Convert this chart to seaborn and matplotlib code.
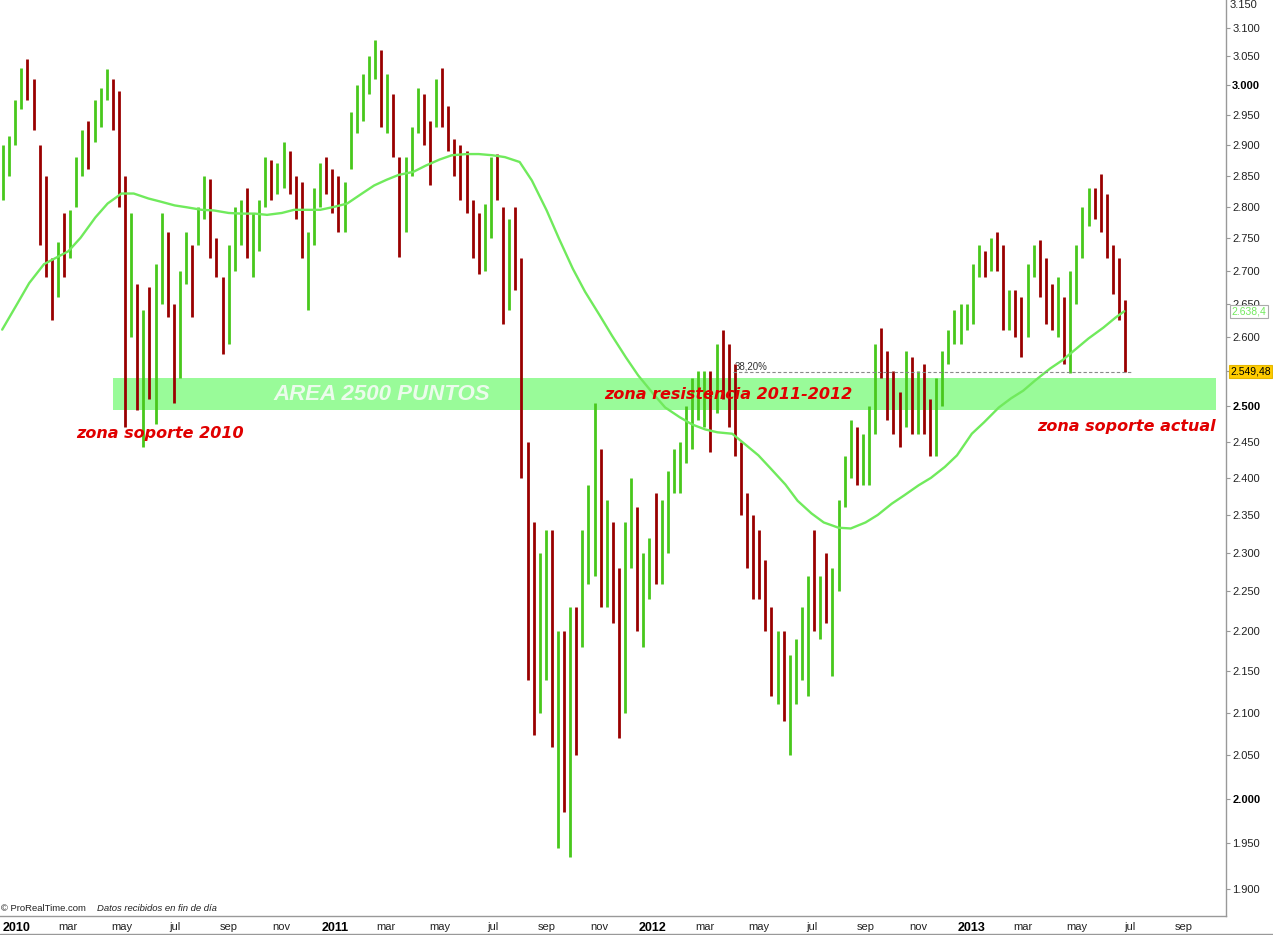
import numpy as np
import pandas as pd
import matplotlib
matplotlib.use("Agg")
import matplotlib.pyplot as plt
import matplotlib.dates as mdates
import matplotlib.transforms as mtransforms
from matplotlib.lines import Line2D
from matplotlib.ticker import NullLocator
import seaborn as sns

# ---- data (weekly bars, one per week, Wednesday stamp) ----
first_week = "2009-12-16"

week_high = [
    2900, 2915, 2975, 3030, 3045, 3010, 2900, 2850, 2720, 2745, 2790, 2795, 2880,
    2925, 2940, 2975, 2995, 3028, 3010, 2990, 2850, 2790, 2680, 2640, 2675, 2710,
    2790, 2760, 2650, 2700, 2760, 2740, 2800, 2850, 2845, 2750, 2690, 2740, 2800,
    2810, 2830, 2790, 2810, 2880, 2875, 2870, 2905, 2890, 2850, 2840, 2760, 2830,
    2870, 2880, 2860, 2850, 2840, 2955, 3000, 3020, 3050, 3078, 3060, 3020, 2985,
    2880, 2880, 2930, 2995, 2985, 2940, 3010, 3030, 2965, 2910, 2900, 2890, 2810,
    2790, 2805, 2880, 2885, 2800, 2780, 2800, 2720, 2450, 2340, 2300, 2330, 2330,
    2200, 2200, 2230, 2230, 2330, 2390, 2505, 2440, 2370, 2340, 2280, 2340, 2400,
    2360, 2300, 2320, 2380, 2370, 2410, 2440, 2450, 2500, 2540, 2550, 2550, 2550,
    2590, 2611, 2590, 2560, 2450, 2380, 2350, 2330, 2290, 2230, 2200, 2200, 2170,
    2190, 2230, 2270, 2330, 2270, 2300, 2280, 2370, 2430, 2480, 2470, 2460, 2500,
    2590, 2613, 2580, 2550, 2520, 2580, 2570, 2550, 2560, 2510, 2540, 2580, 2610,
    2640, 2650, 2650, 2710, 2740, 2730, 2750, 2760, 2740, 2670, 2670, 2660, 2710,
    2740, 2748, 2720, 2680, 2690, 2660, 2700, 2740, 2800, 2830, 2830, 2853, 2820,
    2740, 2720, 2655,
]
week_low = [
    2810, 2850, 2900, 2960, 2975, 2925, 2740, 2690, 2625, 2660, 2690, 2720, 2800,
    2850, 2860, 2905, 2930, 2975, 2925, 2800, 2470, 2600, 2495, 2443, 2510, 2475,
    2650, 2630, 2505, 2540, 2680, 2630, 2740, 2780, 2720, 2690, 2575, 2590, 2700,
    2740, 2720, 2690, 2730, 2800, 2810, 2820, 2830, 2820, 2780, 2720, 2640, 2740,
    2800, 2820, 2790, 2760, 2760, 2860, 2920, 2940, 2985, 3010, 2930, 2920, 2880,
    2721, 2760, 2850, 2920, 2900, 2835, 2930, 2930, 2890, 2850, 2810, 2790, 2720,
    2695, 2700, 2750, 2810, 2620, 2640, 2670, 2400, 2140, 2074, 2100, 2140, 2060,
    1945, 1985, 1935, 2050, 2180, 2260, 2270, 2230, 2230, 2210, 2070, 2100, 2280,
    2200, 2180, 2240, 2260, 2260, 2300, 2380, 2380, 2420, 2440, 2480, 2470, 2435,
    2490, 2510, 2470, 2430, 2350, 2280, 2240, 2240, 2200, 2120, 2110, 2090, 2050,
    2110, 2140, 2120, 2200, 2190, 2210, 2145, 2250, 2360, 2400, 2390, 2390, 2390,
    2460, 2540, 2480, 2460, 2443, 2470, 2460, 2460, 2460, 2430, 2430, 2500, 2560,
    2590, 2590, 2610, 2620, 2690, 2690, 2700, 2700, 2610, 2610, 2600, 2570, 2600,
    2690, 2660, 2620, 2610, 2600, 2560, 2548, 2650, 2720, 2770, 2780, 2760, 2720,
    2665, 2625, 2549,
]
week_close = [
    2870, 2905, 2965, 3015, 2990, 2940, 2780, 2700, 2680, 2730, 2720, 2790, 2860,
    2915, 2900, 2960, 2985, 3010, 2950, 2830, 2500, 2650, 2560, 2600, 2560, 2690,
    2760, 2660, 2540, 2680, 2740, 2700, 2790, 2830, 2730, 2710, 2620, 2730, 2750,
    2770, 2740, 2740, 2800, 2860, 2840, 2850, 2890, 2840, 2810, 2740, 2750, 2810,
    2850, 2840, 2800, 2790, 2830, 2940, 2960, 3005, 3040, 3050, 2960, 2960, 2890,
    2780, 2860, 2920, 2970, 2920, 2910, 2990, 2940, 2900, 2870, 2860, 2820, 2750,
    2730, 2770, 2870, 2820, 2650, 2760, 2690, 2420, 2270, 2140, 2190, 2230, 2090,
    2160, 2000, 2180, 2150, 2310, 2330, 2440, 2300, 2300, 2210, 2100, 2320, 2330,
    2230, 2280, 2300, 2290, 2330, 2400, 2420, 2440, 2450, 2520, 2520, 2540, 2520,
    2570, 2520, 2480, 2440, 2380, 2330, 2310, 2260, 2220, 2140, 2160, 2100, 2150,
    2160, 2160, 2260, 2210, 2250, 2220, 2270, 2360, 2420, 2460, 2420, 2440, 2480,
    2580, 2560, 2520, 2500, 2480, 2560, 2490, 2540, 2480, 2450, 2530, 2570, 2600,
    2620, 2630, 2630, 2700, 2720, 2710, 2740, 2720, 2630, 2630, 2620, 2590, 2700,
    2730, 2690, 2640, 2620, 2670, 2580, 2680, 2720, 2790, 2820, 2800, 2770, 2740,
    2680, 2650, 2549.48,
]

# 200-session moving average, read on the 1st and 15th of each month
ma_first = "2009-12-15"
ma_last_date = "2013-06-25"
ma_200 = [
    2611,
    2649, 2681, 2710, 2720, 2730, 2751, 2783, 2805, 2821, 2821, 2813, 2808,
    2802, 2799, 2795, 2794, 2790, 2789, 2789, 2787, 2790, 2795, 2795, 2795,
    2800, 2805, 2821, 2834, 2843, 2851, 2856, 2866, 2876, 2883, 2885, 2885,
    2883, 2880, 2872, 2842, 2794, 2750, 2703, 2668, 2632, 2602, 2570, 2544,
    2518, 2498, 2484, 2474, 2467, 2463, 2461, 2447, 2431, 2413, 2391, 2369,
    2352, 2340, 2333, 2332, 2340, 2350, 2365, 2376, 2390, 2400, 2415, 2431,
    2461, 2477, 2498, 2511, 2522, 2537, 2554, 2566, 2583, 2598, 2614, 2629,
    2638.4,
]

last_close = 2549.48
band_low, band_high = 2495, 2540
fib_label = "38,20%"

GREEN = "#48c81c"
RED = "#990000"
MA_GREEN = "#70ea5c"
BAND = "#99fb99"
TEXT_RED = "#e00000"


def es_num(v, dec=0):
    s = f"{v:,.{dec}f}"
    return s.replace(",", "X").replace(".", ",").replace("X", ".")


sns.set_theme(style="white")
plt.rcParams["font.family"] = ["Liberation Sans", "DejaVu Sans"]

fig = plt.figure(figsize=(12.73, 9.35), dpi=100)
ax = fig.add_axes([0, 19 / 935, 1226 / 1273, 916 / 935])

weeks = mdates.date2num(pd.date_range(first_week, periods=len(week_close), freq="7D"))
hi = np.array(week_high, dtype=float)
lo = np.array(week_low, dtype=float)
cl = np.array(week_close, dtype=float)
prev = np.concatenate([[cl[0] - 1], cl[:-1]])
up = cl >= prev

# support / resistance band
ax.axhspan(band_low, band_high, xmin=113 / 1226, xmax=1216 / 1226,
           color=BAND, lw=0, zorder=1)

ax.vlines(weeks[up], lo[up], hi[up], color=GREEN, lw=2.0, zorder=2)
ax.vlines(weeks[~up], lo[~up], hi[~up], color=RED, lw=2.0, zorder=2)

ma_dates = list(pd.date_range(ma_first, "2013-06-15", freq="SMS")) + [pd.Timestamp(ma_last_date)]
sns.lineplot(x=mdates.date2num(pd.DatetimeIndex(ma_dates)), y=ma_200, ax=ax,
             color=MA_GREEN, lw=1.7, zorder=3)

ax.axhline(last_close, xmin=733 / 1226, xmax=1132 / 1226, color="#888888",
           lw=0.8, ls=(0, (3, 2)), zorder=3)
blend = mtransforms.blended_transform_factory(ax.transAxes, ax.transData)
ax.text(735 / 1226, last_close, fib_label, transform=blend,
        fontsize=7, color="#333333", va="bottom", ha="left")

# axes scales
ax.set_yscale("log")
ax.set_ylim(1871, 3149)
ax.set_xlim(mdates.date2num(pd.Timestamp("2009-12-12 12:00")),
            mdates.date2num(pd.Timestamp("2013-10-19 18:00")))

yt = np.arange(1900, 3101, 50)
ax.yaxis.tick_right()
# the 2.550 label sits under the last-price box in the original
ax.set_yticks(yt, labels=["" if v == 2550 else es_num(v) for v in yt])
ax.yaxis.set_minor_locator(NullLocator())
ax.tick_params(axis="y", which="major", direction="out", length=3, width=0.8,
               color="#999999", pad=1.5, labelsize=8, labelcolor="#222222")
for lbl, v in zip(ax.get_yticklabels(), yt):
    if v in (2000, 2500, 3000):
        lbl.set_fontweight("bold")
        lbl.set_color("black")
ax.text(1.003, 0.9945, "3.150", transform=ax.transAxes, fontsize=8,
        color="#222222", ha="left", va="center", clip_on=False)

xt = pd.date_range("2010-01-01", "2013-09-01", freq="2MS")
month_es = {1: "", 3: "mar", 5: "may", 7: "jul", 9: "sep", 11: "nov"}
ax.set_xticks(mdates.date2num(xt),
              labels=[str(d.year) if d.month == 1 else month_es[d.month] for d in xt])
ax.tick_params(axis="x", direction="out", length=2.5, width=0.8, color="#999999",
               pad=1.5, labelsize=8, labelcolor="#222222")
for lbl, d in zip(ax.get_xticklabels(), xt):
    if d.month == 1:
        lbl.set_fontweight("bold")
        lbl.set_fontsize(9)
        lbl.set_color("black")

for side in ("top", "left"):
    ax.spines[side].set_visible(False)
for side in ("right", "bottom"):
    ax.spines[side].set_color("#999999")
    ax.spines[side].set_linewidth(1)
ax.grid(False)
ax.set_xlabel("")
ax.set_ylabel("")

# annotations
ax.text(382 / 1226, (915 - 394) / 915, "AREA 2500 PUNTOS", transform=ax.transAxes,
        fontsize=16, fontweight="bold", style="italic", color="#ecfbec",
        ha="center", va="center", zorder=4)
ann = dict(transform=ax.transAxes, fontsize=11.5, fontweight="bold", style="italic",
           color=TEXT_RED, family="DejaVu Sans", va="center", zorder=4)
ax.text(160 / 1226, (915 - 433) / 915, "zona soporte 2010", ha="center", **ann)
ax.text(728 / 1226, (915 - 394) / 915, "zona resistencia 2011-2012", ha="center", **ann)
ax.text(1216 / 1226, (915 - 426) / 915, "zona soporte actual", ha="right", **ann)

# last-value boxes on the price axis
ax.text(1.0045, ma_200[-1], es_num(ma_200[-1], 1), transform=blend, fontsize=7.5,
        color=MA_GREEN, ha="left", va="center", clip_on=False, zorder=6,
        bbox=dict(boxstyle="square,pad=0.15", fc="white", ec="#aaaaaa", lw=0.8))
ax.text(1.0035, last_close, es_num(last_close, 2), transform=blend, fontsize=7.5,
        color="black", ha="left", va="center", clip_on=False, zorder=6,
        bbox=dict(boxstyle="square,pad=0.15", fc="#ffcc00", ec="#e6b800", lw=0.8))

# footer
ax.text(0.001, 0.003, "\u00a9 ProRealTime.com", transform=ax.transAxes, fontsize=6.8,
        color="#222222", ha="left", va="bottom")
ax.text(97 / 1226, 0.003, "Datos recibidos en fin de d\u00eda", transform=ax.transAxes,
        fontsize=6.8, style="italic", color="#222222", ha="left", va="bottom")
fig.add_artist(Line2D([0, 1], [1 / 935, 1 / 935], transform=fig.transFigure,
                      color="#999999", lw=1))

fig.savefig("out.png", dpi=100, facecolor="white")
